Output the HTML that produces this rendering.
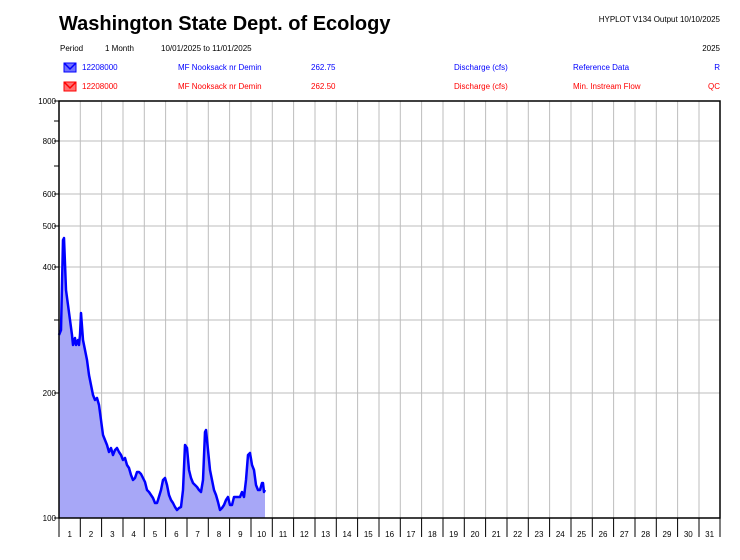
<!DOCTYPE html>
<html><head><meta charset="utf-8"><style>
body{margin:0;background:#fff;width:740px;height:555px;overflow:hidden}
svg text{font-family:"Liberation Sans",Arial,sans-serif}
</style></head><body>
<svg width="740" height="555" viewBox="0 0 740 555">
<text x="59" y="30" font-size="20" font-weight="bold">Washington State Dept. of Ecology</text>
<text x="720" y="22" font-size="8" text-anchor="end">HYPLOT V134  Output 10/10/2025</text>
<text x="60" y="51" font-size="8">Period</text>
<text x="105" y="51" font-size="8">1 Month</text>
<text x="161" y="51" font-size="8">10/01/2025  to  11/01/2025</text>
<text x="720" y="51" font-size="8" text-anchor="end">2025</text>
<g font-size="8" fill="#0000ff">
<rect x="64" y="63" width="12" height="9" fill="#7070ff" stroke="#0000ff"/><path d="M64 63 L70 69 L76 63" stroke="#0000ff" stroke-width="1.5" fill="none"/>
<text x="82" y="70">12208000</text><text x="178" y="70">MF Nooksack nr Demin</text><text x="311" y="70">262.75</text>
<text x="454" y="70">Discharge (cfs)</text><text x="573" y="70">Reference Data</text><text x="720" y="70" text-anchor="end">R</text>
</g>
<g font-size="8" fill="#ff0000">
<rect x="64" y="82" width="12" height="9" fill="#ff7070" stroke="#ff0000"/><path d="M64 82 L70 88 L76 82" stroke="#ff0000" stroke-width="1.5" fill="none"/>
<text x="82" y="89">12208000</text><text x="178" y="89">MF Nooksack nr Demin</text><text x="311" y="89">262.50</text>
<text x="454" y="89">Discharge (cfs)</text><text x="573" y="89">Min. Instream Flow</text><text x="720" y="89" text-anchor="end">QC</text>
</g>
<g stroke="#bdbdbd" stroke-width="1" id="grid"></g>
<g stroke="#bdbdbd" stroke-width="1">
<line x1="59" x2="720" y1="141" y2="141"/><line x1="59" x2="720" y1="194" y2="194"/><line x1="59" x2="720" y1="226" y2="226"/><line x1="59" x2="720" y1="267" y2="267"/><line x1="59" x2="720" y1="320" y2="320"/><line x1="59" x2="720" y1="393" y2="393"/>
<path d="M80.3 101V518M101.6 101V518M123 101V518M144.3 101V518M165.6 101V518M187 101V518M208.3 101V518M229.6 101V518M251 101V518M272.3 101V518M293.6 101V518M315 101V518M336.3 101V518M357.6 101V518M379 101V518M400.3 101V518M421.6 101V518M443 101V518M464.3 101V518M485.6 101V518M507 101V518M528.3 101V518M549.6 101V518M571 101V518M592.3 101V518M613.6 101V518M635 101V518M656.3 101V518M677.6 101V518M699 101V518"/>
</g>
<polygon fill="#a7a7f7" points="59,518 59,335 61,330 63,240 64,238 66,290 68,305 70,320 72,335 73,345 75,338 76,345 78,340 79,345 80,335 81,313 83,340 85,350 87,360 89,375 91,385 93,395 95,400 97,398 99,405 101,420 103,435 105,440 107,445 109,452 111,448 113,455 115,450 117,448 119,452 121,455 123,460 125,458 127,465 129,468 131,475 133,480 135,478 137,472 139,472 141,474 143,478 145,482 147,490 149,492 151,495 153,498 155,503 157,503 158,500 161,490 163,480 165,478 167,485 169,495 171,500 173,503 175,507 177,510 179,508 181,507 183,490 185,445 187,448 189,470 191,478 193,483 195,485 197,487 199,490 201,492 203,480 205,432 206,430 208,450 210,470 212,480 214,490 216,495 218,502 220,510 222,508 224,505 226,500 228,497 230,505 232,505 234,497 236,497 238,497 240,497 242,492 244,497 246,480 248,455 250,453 252,465 254,470 256,485 258,490 260,490 262,483 263,483 264,492 265,490 265,518"/>
<polyline fill="none" stroke="#0000ff" stroke-width="2.5" stroke-linejoin="round" points="59,335 61,330 63,240 64,238 66,290 68,305 70,320 72,335 73,345 75,338 76,345 78,340 79,345 80,335 81,313 83,340 85,350 87,360 89,375 91,385 93,395 95,400 97,398 99,405 101,420 103,435 105,440 107,445 109,452 111,448 113,455 115,450 117,448 119,452 121,455 123,460 125,458 127,465 129,468 131,475 133,480 135,478 137,472 139,472 141,474 143,478 145,482 147,490 149,492 151,495 153,498 155,503 157,503 158,500 161,490 163,480 165,478 167,485 169,495 171,500 173,503 175,507 177,510 179,508 181,507 183,490 185,445 187,448 189,470 191,478 193,483 195,485 197,487 199,490 201,492 203,480 205,432 206,430 208,450 210,470 212,480 214,490 216,495 218,502 220,510 222,508 224,505 226,500 228,497 230,505 232,505 234,497 236,497 238,497 240,497 242,492 244,497 246,480 248,455 250,453 252,465 254,470 256,485 258,490 260,490 262,483 263,483 264,492 265,490"/>
<g stroke="#000" stroke-width="1.5" fill="none">
<rect x="59" y="101" width="661" height="417"/>
</g>
<g stroke="#000" stroke-width="1">
<path d="M59 518V537M80.3 518V537M101.6 518V537M123 518V537M144.3 518V537M165.6 518V537M187 518V537M208.3 518V537M229.6 518V537M251 518V537M272.3 518V537M293.6 518V537M315 518V537M336.3 518V537M357.6 518V537M379 518V537M400.3 518V537M421.6 518V537M443 518V537M464.3 518V537M485.6 518V537M507 518V537M528.3 518V537M549.6 518V537M571 518V537M592.3 518V537M613.6 518V537M635 518V537M656.3 518V537M677.6 518V537M699 518V537M720 518V537"/>
<path d="M54 101H59M54 121H59M54 141H59M54 166H59M54 194H59M54 226H59M54 267H59M54 320H59M54 393H59M54 518H59"/>
</g>
<g font-size="8" text-anchor="end">
<text x="56" y="104">1000</text><text x="56" y="144">800</text><text x="56" y="197">600</text><text x="56" y="229">500</text><text x="56" y="270">400</text><text x="56" y="396">200</text><text x="56" y="521">100</text>
</g>
<g font-size="8" text-anchor="middle">
<text x="69.7" y="537">1</text><text x="91" y="537">2</text><text x="112.3" y="537">3</text><text x="133.6" y="537">4</text><text x="155" y="537">5</text><text x="176.3" y="537">6</text><text x="197.6" y="537">7</text><text x="219" y="537">8</text><text x="240.3" y="537">9</text><text x="261.6" y="537">10</text><text x="283" y="537">11</text><text x="304.3" y="537">12</text><text x="325.6" y="537">13</text><text x="347" y="537">14</text><text x="368.3" y="537">15</text><text x="389.6" y="537">16</text><text x="411" y="537">17</text><text x="432.3" y="537">18</text><text x="453.6" y="537">19</text><text x="475" y="537">20</text><text x="496.3" y="537">21</text><text x="517.6" y="537">22</text><text x="539" y="537">23</text><text x="560.3" y="537">24</text><text x="581.6" y="537">25</text><text x="603" y="537">26</text><text x="624.3" y="537">27</text><text x="645.6" y="537">28</text><text x="667" y="537">29</text><text x="688.3" y="537">30</text><text x="709.6" y="537">31</text>
</g>
</svg>
</body></html>
